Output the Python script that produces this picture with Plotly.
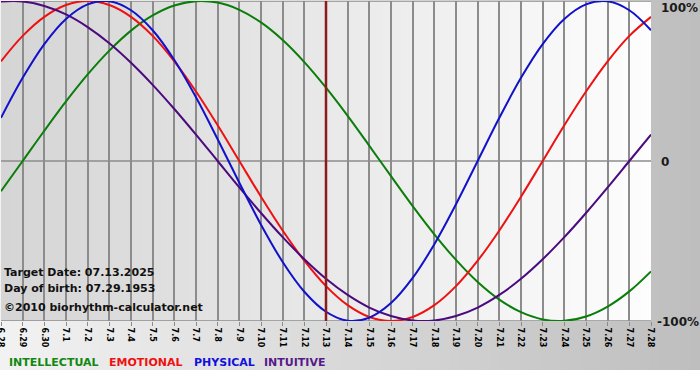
import plotly.graph_objects as go

# ---- data ----
dates = ["6.28", "6.29", "6.30", "7.1", "7.2", "7.3", "7.4", "7.5", "7.6", "7.7",
         "7.8", "7.9", "7.10", "7.11", "7.12", "7.13", "7.14", "7.15", "7.16", "7.17",
         "7.18", "7.19", "7.20", "7.21", "7.22", "7.23", "7.24", "7.25", "7.26", "7.27", "7.28"]

intellectual = [-0.189, 0.0, 0.189, 0.372, 0.541, 0.690, 0.815, 0.910, 0.972, 0.999, 0.990,
                0.945, 0.866, 0.756, 0.618, 0.458, 0.282, 0.095, -0.095, -0.282, -0.458,
                -0.618, -0.756, -0.866, -0.945, -0.990, -0.999, -0.972, -0.910, -0.815, -0.690]
emotional = [0.623, 0.782, 0.901, 0.975, 1.0, 0.975, 0.901, 0.782, 0.623, 0.434, 0.223,
             0.0, -0.223, -0.434, -0.623, -0.782, -0.901, -0.975, -1.0, -0.975, -0.901,
             -0.782, -0.623, -0.434, -0.223, 0.0, 0.223, 0.434, 0.623, 0.782, 0.901]
physical = [0.270, 0.520, 0.731, 0.888, 0.979, 0.998, 0.942, 0.817, 0.631, 0.398, 0.136,
            -0.136, -0.398, -0.631, -0.817, -0.942, -0.998, -0.979, -0.888, -0.731, -0.520,
            -0.270, 0.0, 0.270, 0.520, 0.731, 0.888, 0.979, 0.998, 0.942, 0.817]
intuitive = [0.997, 0.997, 0.969, 0.916, 0.837, 0.736, 0.614, 0.476, 0.325, 0.165, 0.0,
             -0.165, -0.325, -0.476, -0.614, -0.736, -0.837, -0.916, -0.969, -0.997, -0.997,
             -0.969, -0.916, -0.837, -0.736, -0.614, -0.476, -0.325, -0.165, 0.0, 0.165]

series_names = ["INTELLECTUAL", "EMOTIONAL", "PHYSICAL", "INTUITIVE"]
y_tick_vals = [1, 0, -1]
y_tick_text = ["100%", "0", "-100%"]
target_date = "7.13"
info_lines = ["Target Date: 07.13.2025", "Day of birth: 07.29.1953", "©2010 biorhythm-calculator.net"]

# ---- styling ----
W, H = 700, 380
L, R, T, B = 1, 49, 1, 59
PW, PH = W - L - R, H - T - B
FONT = "DejaVu Sans"

def px_x(px):
    return (px - L) / PW

def px_y(py):
    return (H - B - py) / PH

line_colors = ["#0a7d0a", "#ee1111", "#1111cc", "#4b0a7d"]
legend_colors = ["#118811", "#ee1111", "#1111dd", "#561a88"]
legend_x = [7, 107, 192, 262]

idx = list(range(len(dates)))

fig = go.Figure()
series = [intellectual, emotional, intuitive, physical]
order_names = ["INTELLECTUAL", "EMOTIONAL", "INTUITIVE", "PHYSICAL"]
order_colors = [line_colors[0], line_colors[1], line_colors[3], line_colors[2]]
for vals, nm, col in zip(series, order_names, order_colors):
    fig.add_trace(go.Scatter(x=idx, y=vals, mode="lines", name=nm,
                             line=dict(color=col, width=2, shape="spline", smoothing=1.0),
                             cliponaxis=False, showlegend=False, hoverinfo="skip"))

shapes = []

def lerp(c0, c1, t):
    return "rgb(%d,%d,%d)" % tuple(round(a + (b - a) * t) for a, b in zip(c0, c1))

# outer background gradient (light left -> darker right), down to y=370
n = 70
for i in range(n):
    x0 = i * W / n
    x1 = (i + 1) * W / n + 0.6
    shapes.append(dict(type="rect", xref="paper", yref="paper", layer="below",
                       x0=px_x(x0), x1=px_x(x1), y0=px_y(370), y1=px_y(0),
                       fillcolor=lerp((242, 242, 242), (190, 190, 190), i / (n - 1)),
                       line=dict(width=0)))
# plot area gradient (gray left -> white right)
n = 65
for i in range(n):
    x0 = L + i * PW / n
    x1 = L + (i + 1) * PW / n + 0.6
    shapes.append(dict(type="rect", xref="paper", yref="paper", layer="below",
                       x0=px_x(x0), x1=px_x(min(x1, L + PW)), y0=0, y1=1,
                       fillcolor=lerp((213, 213, 213), (253, 253, 253), i / (n - 1)),
                       line=dict(width=0)))
# horizontal grid lines
for v in y_tick_vals:
    shapes.append(dict(type="line", xref="paper", yref="y", layer="below",
                       x0=0, x1=1, y0=v, y1=v, line=dict(color="#8c8c8c", width=1.5)))
# target date line
t_idx = dates.index(target_date)
shapes.append(dict(type="line", xref="x", yref="paper", layer="above",
                   x0=t_idx, x1=t_idx, y0=0, y1=1,
                   line=dict(color="#8b1c1c", width=2.5)))

annotations = []
label_y_px = [8, 162, 322]
label_x_px = [659, 659, 655]
for txt, ypx, xpx in zip(y_tick_text, label_y_px, label_x_px):
    annotations.append(dict(text=txt, xref="paper", yref="paper", x=px_x(xpx), y=px_y(ypx),
                            xanchor="left", yanchor="middle", showarrow=False,
                            font=dict(family=FONT, size=12, color="#1a1a1a", weight="bold")))
info_y_px = [272, 288, 307]
for txt, ypx in zip(info_lines, info_y_px):
    annotations.append(dict(text=txt, xref="paper", yref="paper", x=px_x(2), y=px_y(ypx),
                            xanchor="left", yanchor="middle", showarrow=False,
                            font=dict(family=FONT, size=11, color="#111111", weight="bold")))
for nm, col, xp in zip(series_names, legend_colors, legend_x):
    annotations.append(dict(text=nm, xref="paper", yref="paper", x=px_x(xp), y=px_y(362),
                            xanchor="left", yanchor="middle", showarrow=False,
                            font=dict(family=FONT, size=11, color=col, weight="bold")))

fig.update_layout(
    width=W, height=H,
    margin=dict(l=L, r=R, t=T, b=B, pad=0, autoexpand=False),
    paper_bgcolor="white", plot_bgcolor="rgba(0,0,0,0)",
    shapes=shapes, annotations=annotations, showlegend=False,
    xaxis=dict(range=[0, len(dates) - 1], showgrid=True, automargin=False,
               tickmode="array", tickvals=idx, ticktext=dates, ticklabeloverflow="allow",
               gridcolor="#8c8c8c", gridwidth=1.5, zeroline=False,
               ticks="outside", ticklen=4, tickcolor="#8c8c8c", tickwidth=1,
               tickangle=90, tickfont=dict(family=FONT, size=8, color="black", weight="bold"),
               fixedrange=True),
    yaxis=dict(range=[-1, 1], showgrid=False, zeroline=False, showticklabels=False,
               automargin=False, ticks="", fixedrange=True),
)

fig.write_html("out.html", config={"displayModeBar": False},
               post_script="document.body.style.margin='0';document.body.style.padding='0';"
                           "document.documentElement.style.overflow='hidden';")
